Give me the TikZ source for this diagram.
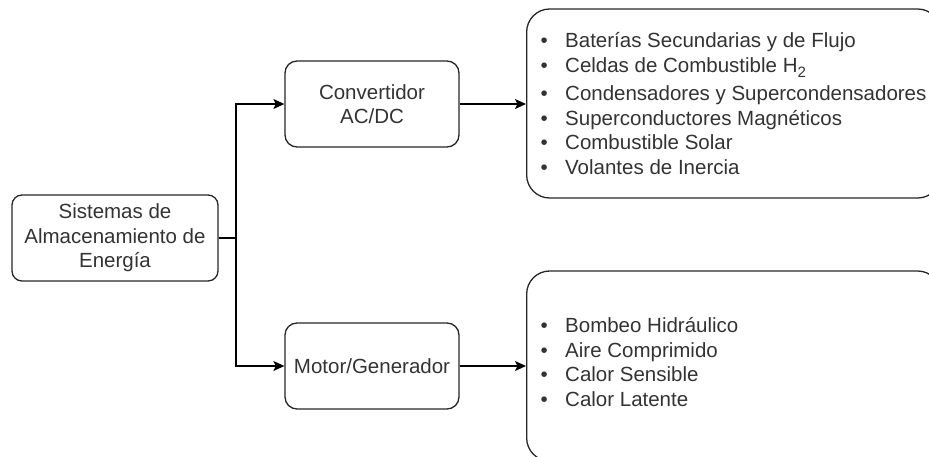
\documentclass[tikz,border=0pt]{standalone}
\usepackage{fontspec}
\setmainfont{Liberation Sans}
\usetikzlibrary{arrows.meta}
\begin{document}
\begin{tikzpicture}[x=1pt,y=-1pt,
  every node/.style={text=black!80, font=\fontsize{20.5}{24.5}\selectfont},
  box/.style={draw=black!85, line width=1.3pt, rounded corners=12pt,
    align=center, inner sep=0pt},
  bigbox/.style={draw=black!85, line width=1.3pt, rounded corners=23pt, inner sep=0pt},
  list/.style={align=left, inner sep=0pt, anchor=west},
  link/.style={draw=black, line width=1.3pt},
  arr/.style={link, -{Stealth[length=11pt,width=10pt,inset=2.5pt]}}]
\useasboundingbox (0,0) rectangle (929,456);

% source block
\node[box, rounded corners=10pt, minimum width=206pt, minimum height=86pt] (sea) at (115,238)
  {Sistemas de\\Almacenamiento de\\Energía};

% conversion stages
\node[box, minimum width=174pt, minimum height=86pt] (conv) at (372,104)
  {Convertidor\\AC/DC};
\node[box, minimum width=174pt, minimum height=86pt] (motor) at (372,366)
  {Motor/Generador};

% technology groups
\node[bigbox, minimum width=414pt, minimum height=189pt, anchor=west] (grp1) at (526,103.5) {};
\node[bigbox, minimum width=414pt, minimum height=190pt, anchor=west] (grp2) at (526,366) {};

\newcommand{\itm}{\makebox[26pt][l]{\hspace{1.5pt}\textbullet}}
\newcommand{\sbscr}[1]{\raisebox{-5pt}{\fontsize{15}{15}\selectfont #1}}
\node[list] (l1) at ([xshift=13pt]grp1.west)
  {\itm Baterías Secundarias y de Flujo\\
   \itm Celdas de Combustible H\sbscr{2}\\[4pt]
   \itm Condensadores y Supercondensadores\\
   \itm Superconductores Magnéticos\\
   \itm Combustible Solar\\
   \itm Volantes de Inercia};
\node[list] (l2) at ([xshift=13pt,yshift=4pt]grp2.west)
  {\itm Bombeo Hidráulico\\
   \itm Aire Comprimido\\
   \itm Calor Sensible\\
   \itm Calor Latente};

% connectors
\coordinate (split) at (236,238);
\draw[link, line width=2.2pt] (sea.east) -- (split);
\draw[arr] (split) |- (conv.west);
\draw[arr] (split) |- (motor.west);
\draw[arr] (conv.east) -- (conv.east -| grp1.west);
\draw[arr] (motor.east) -- (motor.east -| grp2.west);
\end{tikzpicture}
\end{document}
